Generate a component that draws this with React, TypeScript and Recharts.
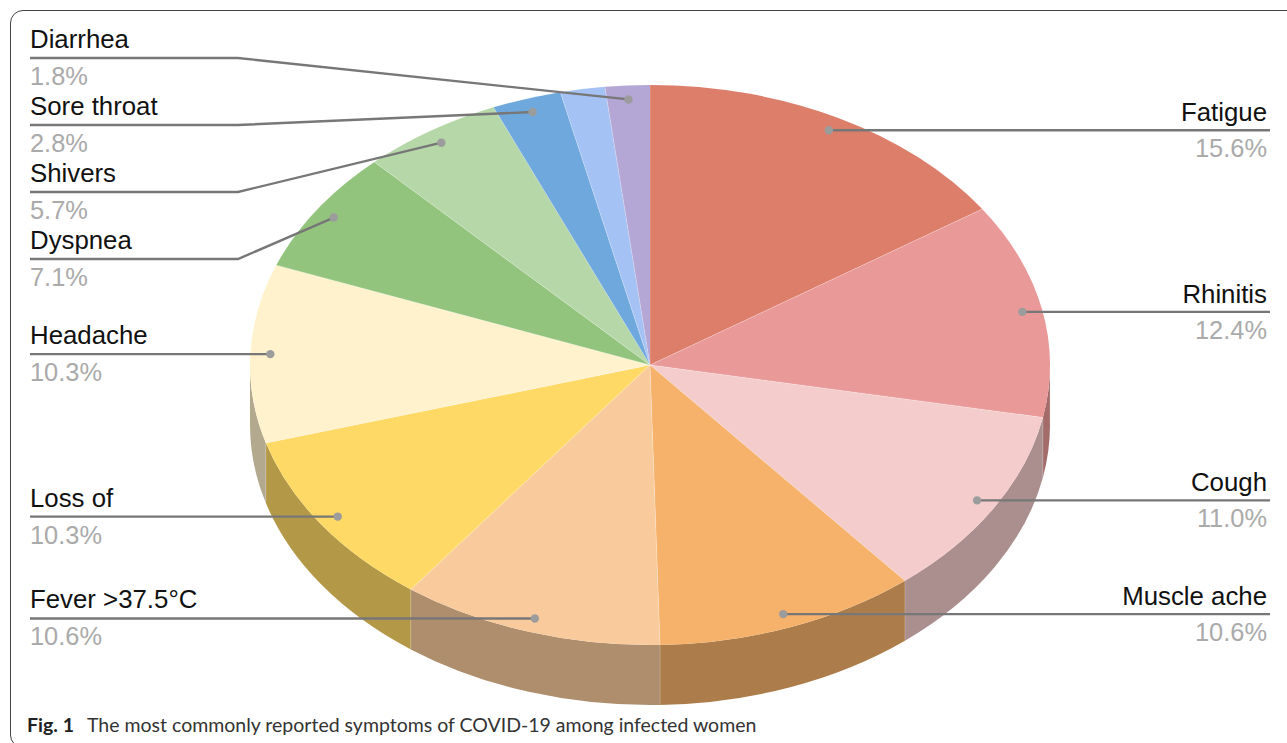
import React from 'react';
import { PieChart, Pie } from 'recharts';

const categories = ['Fatigue', 'Rhinitis', 'Cough', 'Muscle ache', 'Fever >37.5°C', 'Loss of', 'Headache', 'Dyspnea', 'Shivers', 'Sore throat', '', 'Diarrhea'];
const values = [15.6, 12.4, 11.0, 10.6, 10.6, 10.3, 10.3, 7.1, 5.7, 2.8, 1.8, 1.8];
const colors = ['#DD7E6B', '#EA9999', '#F4CCCC', '#F6B26B', '#F9CB9C', '#FFD966', '#FFF2CC', '#93C47D', '#B6D7A8', '#6FA8DC', '#A4C2F4', '#B4A7D6'];

// rows of the labels whose leader line bends on its way to the slice
const elbowRows: Record<string, number> = { Diarrhea: 58, 'Sore throat': 125, Shivers: 192, Dyspnea: 259 };

const data = categories.map((name, i) => ({ name, value: values[i], fill: colors[i] }));

const WIDTH = 1287;
const HEIGHT = 743;
const TILT = 0.7;
const DEPTH = 60;
const DOT_RATIO = 0.95;
const LEFT_X = 30;
const RIGHT_X = 1270;
const ELBOW_X = 238;
const RAD = Math.PI / 180;

const darken = (hex: string) => {
  const n = parseInt(hex.slice(1), 16);
  const c = [(n >> 16) & 255, (n >> 8) & 255, n & 255].map(v => Math.round(v * 0.7));
  return `rgb(${c[0]},${c[1]},${c[2]})`;
};

const point = (cx: number, cy: number, r: number, deg: number) => ({
  x: cx + r * Math.cos(deg * RAD),
  y: cy - r * TILT * Math.sin(deg * RAD),
});

const TopFace = (props: any) => {
  const { cx, cy, outerRadius: r, startAngle, endAngle, fill } = props;
  const a = point(cx, cy, r, startAngle);
  const b = point(cx, cy, r, endAngle);
  const large = Math.abs(startAngle - endAngle) > 180 ? 1 : 0;
  return (
    <g>
      <path d={`M${cx},${cy}L${a.x},${a.y}A${r},${r * TILT} 0 ${large} 1 ${b.x},${b.y}Z`} fill={fill} />
      <path d={`M${cx},${cy}L${a.x},${a.y}`} stroke="#fff" strokeOpacity={0.25} strokeWidth={1} fill="none" />
    </g>
  );
};

// outer side of a slice, only where it faces the viewer
const SideWall = (props: any) => {
  const { cx, cy, outerRadius: r, startAngle, endAngle, fill } = props;
  const from = Math.min(startAngle, 0);
  const to = Math.max(endAngle, -180);
  if (from <= to) return <g />;
  const a = point(cx, cy, r, from);
  const b = point(cx, cy, r, to);
  const ry = r * TILT;
  return (
    <g>
      <path
        d={`M${a.x},${a.y}A${r},${ry} 0 0 1 ${b.x},${b.y}L${b.x},${b.y + DEPTH}A${r},${ry} 0 0 0 ${a.x},${a.y + DEPTH}Z`}
        fill={darken(fill)}
      />
      <path d={`M${a.x},${a.y}L${a.x},${a.y + DEPTH}`} stroke="#fff" strokeOpacity={0.2} strokeWidth={1} />
    </g>
  );
};

const SliceLabel = (props: any) => {
  const { cx, cy, outerRadius, midAngle, index } = props;
  const name = categories[index];
  if (!name) return null;
  const dot = point(cx, cy, outerRadius * DOT_RATIO, midAngle);
  const onLeft = dot.x < cx;
  const endX = onLeft ? LEFT_X : RIGHT_X;
  const row = elbowRows[name] ?? dot.y;
  const pts = elbowRows[name] !== undefined
    ? `${dot.x},${dot.y} ${ELBOW_X},${row} ${endX},${row}`
    : `${dot.x},${dot.y} ${endX},${row}`;
  const textX = onLeft ? LEFT_X : RIGHT_X - 3;
  const anchor = onLeft ? 'start' : 'end';
  return (
    <g style={{ fontFamily: '"Liberation Sans", sans-serif' }}>
      <polyline points={pts} fill="none" stroke="#777" strokeWidth={2.4} />
      <circle cx={dot.x} cy={dot.y} r={4.2} fill="#9c9c9c" />
      <text x={textX} y={onLeft ? row - 10 : row - 9} textAnchor={anchor} fill="#111" fontSize={25.8}>{name}</text>
      <text x={textX} y={row + 27} textAnchor={anchor} fill="#aaa" fontSize={25.4}>{values[index].toFixed(1)}%</text>
    </g>
  );
};

export default function App() {
  return (
    <div style={{ position: 'fixed', left: 0, top: 0, width: WIDTH, height: HEIGHT, overflow: 'hidden', background: '#fff' }}>
      <div style={{ position: 'absolute', left: 10, top: 10, width: 1400, height: 738, border: '1.5px solid #444', borderRadius: 13, boxSizing: 'border-box' }} />
      <div style={{ position: 'absolute', left: 0, top: 0 }}>
        <PieChart width={WIDTH} height={HEIGHT} margin={{ top: 0, right: 0, bottom: 0, left: 0 }}>
          <Pie
            data={data}
            dataKey="value"
            cx={650}
            cy={365}
            outerRadius={400}
            startAngle={90}
            endAngle={-270}
            stroke="none"
            isAnimationActive={false}
            shape={SideWall}
            inactiveShape={SideWall}
          />
          <Pie
            data={data}
            dataKey="value"
            cx={650}
            cy={365}
            outerRadius={400}
            startAngle={90}
            endAngle={-270}
            stroke="none"
            isAnimationActive={false}
            shape={TopFace}
            inactiveShape={TopFace}
            label={SliceLabel}
            labelLine={false}
          />
        </PieChart>
      </div>
      <div style={{ position: 'absolute', left: 27, top: 713, fontFamily: 'Lato, sans-serif', fontSize: 19.5, color: '#333', whiteSpace: 'nowrap' }}>
        <b style={{ color: '#222', marginRight: 13 }}>Fig. 1</b>The most commonly reported symptoms of COVID-19 among infected women
      </div>
    </div>
  );
}
